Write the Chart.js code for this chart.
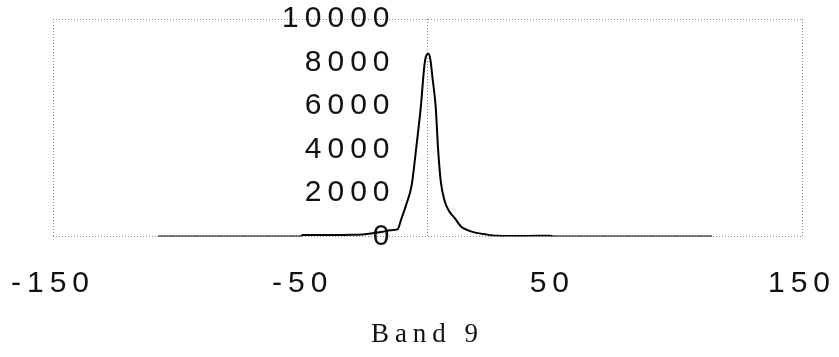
<!DOCTYPE html>
<html>
<head>
<meta charset="utf-8">
<script src="https://cdn.jsdelivr.net/npm/chart.js@4.4.1/dist/chart.umd.min.js"></script>
<style>
  html, body { margin: 0; padding: 0; background: #ffffff; }
  #wrap { width: 839px; height: 357px; }
</style>
</head>
<body>
<div id="wrap"><canvas id="c" width="839" height="357"></canvas></div>
<script>
// ---- data ----
const xValues = [-108, -60, -51, -50, -40, -30, -26, -22, -18, -15, -12, -10.5, -8.5, -6.3, -4.5, -2.7, -1.2, -0.4, 0.4, 1.2, 2, 3.3, 4.2, 5.3, 6.9, 8.5, 10.9, 13.5, 16, 19.5, 22.5, 26, 30, 40, 49, 51, 60, 80, 114];
const yValues = [0, 0, 0, 70, 70, 80, 100, 150, 220, 290, 330, 800, 1480, 2390, 4090, 5940, 7900, 8350, 8400, 8100, 7300, 5940, 4090, 2550, 1620, 1200, 850, 450, 300, 170, 120, 50, 30, 30, 40, 0, 0, 0, 0];
const xTickValues = [-150, -50, 0, 50, 150];
const xTickLabels = ['-150', '-50', '', '50', '150'];
const yTickValues = [0, 2000, 4000, 6000, 8000, 10000];
const yTickLabels = ['0', '2000', '4000', '6000', '8000', '10000'];
const titleText = 'Band 9';

const points = xValues.map((x, i) => ({ x: x, y: yValues[i] }));
const gridGray = '#8a8a8a';

const spacingPlugin = {
  id: 'spacing',
  beforeUpdate(chart) { chart.ctx.letterSpacing = '6px'; },
  beforeLayout(chart) { chart.ctx.letterSpacing = '6px'; },
  beforeDraw(chart) { chart.ctx.letterSpacing = '6px'; }
};

new Chart(document.getElementById('c'), {
  type: 'line',
  data: {
    datasets: [{
      data: points,
      borderColor: '#000000',
      borderWidth: 2,
      pointRadius: 0,
      fill: false,
      cubicInterpolationMode: 'monotone'
    }]
  },
  plugins: [spacingPlugin],
  options: {
    responsive: false,
    animation: false,
    layout: { padding: { left: 53, right: 37, top: 19, bottom: 0 } },
    plugins: {
      legend: { display: false },
      tooltip: { enabled: false },
      title: {
        display: true,
        text: titleText,
        position: 'bottom',
        color: '#111111',
        font: { family: '"Liberation Serif", "Times New Roman", serif', size: 27, weight: 'normal' },
        padding: { top: 17, bottom: 6 }
      }
    },
    scales: {
      x: {
        type: 'linear',
        min: -150,
        max: 150,
        afterBuildTicks(scale) {
          scale.ticks = xTickValues.map(v => ({ value: v }));
        },
        ticks: {
          autoSkip: false,
          maxRotation: 0,
          padding: 0,
          color: '#111111',
          font: { family: '"Liberation Sans", Arial, sans-serif', size: 30 },
          callback(value) {
            const i = xTickValues.indexOf(value);
            return i >= 0 ? xTickLabels[i] : '';
          }
        },
        grid: {
          drawTicks: true,
          tickLength: 29,
          tickColor: 'rgba(0,0,0,0)',
          lineWidth: 1,
          color(ctx) {
            const v = ctx.tick ? ctx.tick.value : null;
            return (v === -150 || v === 0 || v === 150) ? gridGray : 'rgba(0,0,0,0)';
          }
        },
        border: { display: false, dash: [1, 2] }
      },
      y: {
        type: 'linear',
        position: { x: -12.8 },
        min: 0,
        max: 10000,
        afterBuildTicks(scale) {
          scale.ticks = yTickValues.map(v => ({ value: v }));
        },
        ticks: {
          autoSkip: false,
          padding: 0,
          color: '#111111',
          font: { family: '"Liberation Sans", Arial, sans-serif', size: 30 },
          callback(value) {
            const i = yTickValues.indexOf(value);
            return i >= 0 ? yTickLabels[i] : '';
          }
        },
        grid: {
          drawTicks: false,
          lineWidth: 1,
          color(ctx) {
            const v = ctx.tick ? ctx.tick.value : null;
            return (v === 0 || v === 10000) ? gridGray : 'rgba(0,0,0,0)';
          }
        },
        border: { display: false, dash: [1, 2] }
      }
    }
  }
});
</script>
</body>
</html>
